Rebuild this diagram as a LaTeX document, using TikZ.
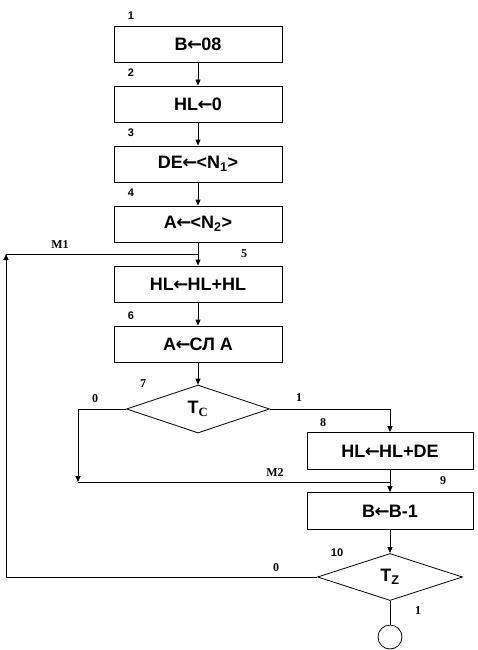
\documentclass[tikz,border=0pt]{standalone}
\usepackage{fontspec}
\setmainfont{Liberation Sans}
\newfontfamily\serifb{Liberation Serif}
\newfontfamily\arrfont{DejaVu Sans}
\newcommand{\lar}{{\kern-0.03em\arrfont\bfseries ←\kern-0.05em}}
\usetikzlibrary{arrows.meta,shapes.geometric}
\begin{document}
\begin{tikzpicture}[x=1pt,y=-1pt,
  every path/.style={line width=0.8pt},
  box/.style={draw,line width=0.8pt,minimum width=168pt,minimum height=36pt,inner sep=0pt,
    font=\fontsize{18}{20}\selectfont\bfseries},
  dec/.style={draw,diamond,line width=0.8pt,minimum width=143pt,minimum height=48pt,inner sep=0pt,
    font=\fontsize{18}{20}\selectfont\bfseries},
  arr/.style={-{Triangle[length=6pt,width=5pt]}},
  numlab/.style={font=\fontsize{11}{12}\selectfont\bfseries,inner sep=0pt},
  serlab/.style={font=\fontsize{12}{14}\selectfont\serifb\bfseries,inner sep=0pt}]
\path[use as bounding box] (0,0) rectangle (477,650);

\node[box] (b1) at (198,44) {B\lar08};
\node[box] (b2) at (198,104) {HL\lar0};
\node[box] (b3) at (198,164) {DE\lar<N\textsubscript{1}>};
\node[box] (b4) at (198,224) {A\lar<N\textsubscript{2}>};
\node[box] (b5) at (198,284) {HL\lar HL+HL};
\node[box] (b6) at (198,344) {A\lar СЛ A};
\node[dec] (d7) at (198,409) {T\textsubscript{\serifb C}};
\node[box,minimum width=166pt,minimum height=37pt] (b8) at (390,451) {HL\lar HL+DE};
\node[box,minimum width=166pt,minimum height=37pt] (b9) at (390,511) {B\lar B-1};
\node[dec,minimum width=145pt,minimum height=47pt] (d10) at (390,577) {T\textsubscript{Z}};
\node[draw,circle,minimum size=24pt,inner sep=0pt] (end) at (390,637) {};

\coordinate (m1r) at (198,254);
\coordinate (m1l) at (6,254);
\coordinate (m2l) at (78,482);
\coordinate (m2r) at (390,482);

\draw[arr] (b1) -- (b2);
\draw[arr] (b2) -- (b3);
\draw[arr] (b3) -- (b4);
\draw[arr] (b4) -- (b5);
\draw[arr] (b5) -- (b6);
\draw[arr] (b6) -- (d7);
\draw[arr] (d7.east) -| (b8);
\draw[arr] (d7.west) -| (m2l);
\draw (m2l) -- (m2r);
\draw[arr] (b8) -- (b9);
\draw[arr] (b9) -- (d10);
\draw[arr] (d10.west) -| (m1l);
\draw (m1l) -- (m1r);
\draw (d10) -- (end);

\node[numlab] (l1) at (131,16) {1};
\node[numlab] (l2) at (131,73) {2};
\node[numlab] (l3) at (131,133) {3};
\node[numlab] (l4) at (131,193) {4};
\node[serlab] (l5) at (244,254) {5};
\node[numlab] (l6) at (131,316) {6};
\node[serlab] (lm1) at (60,245) {M1};
\node[serlab] (l7) at (143,384) {7};
\node[serlab] (l0a) at (95,399) {0};
\node[serlab] (l1a) at (299,398) {1};
\node[serlab] (l8) at (323,423) {8};
\node[serlab] (lm2) at (275,473) {M2};
\node[serlab] (l9) at (443,481) {9};
\node[numlab] (l10) at (337,553) {10};
\node[serlab] (l0b) at (276,568) {0};
\node[serlab] (l1b) at (418,611) {1};
\end{tikzpicture}
\end{document}
